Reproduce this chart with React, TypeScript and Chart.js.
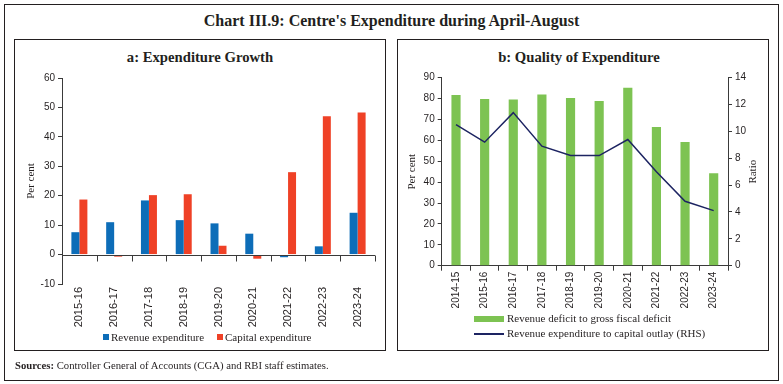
import React, { useEffect, useRef } from "react";
import { Chart, registerables } from "chart.js";

Chart.register(...registerables);

// ---------- Data ----------
const growthCategories = ["2015-16", "2016-17", "2017-18", "2018-19", "2019-20", "2020-21", "2021-22", "2022-23", "2023-24"];
const revenueExpenditureGrowth = [7.6, 11.0, 18.4, 11.7, 10.6, 7.1, -0.9, 2.8, 14.2];
const capitalExpenditureGrowth = [18.7, -0.7, 20.2, 20.5, 3.0, -1.4, 28.0, 47.0, 48.3];
const growthAxisRange = [-10, 60, 10]; // min, max, step

const qualityCategories = ["2014-15", "2015-16", "2016-17", "2017-18", "2018-19", "2019-20", "2020-21", "2021-22", "2022-23", "2023-24"];
const revenueDeficitToGfd = [81.7, 79.8, 79.6, 82.0, 80.3, 78.8, 85.2, 66.4, 59.2, 44.2];
const revExpToCapitalOutlay = [10.5, 9.2, 11.4, 8.9, 8.2, 8.2, 9.4, 7.0, 4.8, 4.1];
const qualityLeftRange = [0, 90, 10];
const qualityRightRange = [0, 14, 2];
const rightAxisTitle = "Ratio";

// ---------- Styles ----------
const AXIS = "#3a3a3a";
const TEXT = "#231f20";
const BLUE = "#0d6db8";
const RED = "#ef4126";
const GREEN = "#7dc352";
const NAVY = "#1d2462";
const SANS = '"Liberation Sans", Arial, sans-serif';
const SERIF = '"Liberation Serif", "Times New Roman", serif';

const zeroAxisPlugin = {
  id: "zeroAxis",
  afterDatasetsDraw(chart: any) {
    const { ctx, chartArea, scales } = chart;
    const y0 = Math.round(scales.y.getPixelForValue(0)) + 0.5;
    const n = chart.data.labels.length;
    const step = (chartArea.right - chartArea.left) / n;
    ctx.save();
    ctx.strokeStyle = AXIS;
    ctx.lineWidth = 1;
    ctx.beginPath();
    ctx.moveTo(chartArea.left, y0);
    ctx.lineTo(chartArea.right, y0);
    for (let i = 1; i <= n; i++) {
      const x = Math.round(chartArea.left + i * step) + 0.5;
      ctx.moveTo(x, y0);
      ctx.lineTo(x, y0 + 6);
    }
    ctx.stroke();
    ctx.restore();
  },
};

// Right-axis title drawn reading bottom-to-top, like the left one
const rightTitlePlugin = {
  id: "rightTitle",
  afterDraw(chart: any) {
    const s = chart.scales.y2;
    const { ctx } = chart;
    ctx.save();
    ctx.translate(s.right - 14.3, (s.top + s.bottom) / 2);
    ctx.rotate(-Math.PI / 2);
    ctx.fillStyle = TEXT;
    ctx.font = `11px ${SERIF}`;
    ctx.textAlign = "center";
    ctx.textBaseline = "middle";
    ctx.fillText(rightAxisTitle, 0, 0);
    ctx.restore();
  },
};

function GrowthChart() {
  const ref = useRef<HTMLCanvasElement | null>(null);
  useEffect(() => {
    if (!ref.current) return;
    const chart = new Chart(ref.current, {
      type: "bar",
      data: {
        labels: growthCategories,
        datasets: [
          { label: "Revenue expenditure", data: revenueExpenditureGrowth, backgroundColor: BLUE, categoryPercentage: 0.46, barPercentage: 1 },
          { label: "Capital expenditure", data: capitalExpenditureGrowth, backgroundColor: RED, categoryPercentage: 0.46, barPercentage: 1 },
        ],
      },
      options: {
        responsive: false,
        animation: false,
        layout: { padding: { top: 38, right: 10, left: 0, bottom: 0 } },
        plugins: { legend: { display: false }, tooltip: { enabled: false } },
        scales: {
          x: {
            grid: { display: false, drawTicks: false },
            border: { display: false },
            ticks: { maxRotation: 90, minRotation: 90, autoSkip: false, padding: 3, color: TEXT, font: { family: SANS, size: 11 } },
            afterFit: (s: any) => { s.height = 66; },
          },
          y: {
            min: growthAxisRange[0],
            max: growthAxisRange[1],
            ticks: { stepSize: growthAxisRange[2], padding: 3, color: TEXT, font: { family: SANS, size: 10 } },
            grid: { display: true, drawOnChartArea: false, drawTicks: true, tickLength: 4, color: AXIS },
            border: { display: true, color: AXIS },
            title: { display: true, text: "Per cent", color: TEXT, font: { family: SERIF, size: 11 }, padding: { top: 10, bottom: 0 } },
            afterFit: (s: any) => { s.width = 47; },
          },
        },
      },
      plugins: [zeroAxisPlugin],
    } as any);
    return () => chart.destroy();
  }, []);
  return <canvas ref={ref} width={370} height={310} style={{ position: "absolute", left: 15, top: 40 }} />;
}

function QualityChart() {
  const ref = useRef<HTMLCanvasElement | null>(null);
  useEffect(() => {
    if (!ref.current) return;
    const chart = new Chart(ref.current, {
      type: "bar",
      data: {
        labels: qualityCategories,
        datasets: [
          { type: "line", label: "Revenue expenditure to capital outlay (RHS)", data: revExpToCapitalOutlay, yAxisID: "y2", borderColor: NAVY, borderWidth: 1.5, pointRadius: 0, tension: 0, order: 0 },
          { type: "bar", label: "Revenue deficit to gross fiscal deficit", data: revenueDeficitToGfd, yAxisID: "y", backgroundColor: GREEN, categoryPercentage: 0.32, barPercentage: 1, order: 1 },
        ],
      },
      options: {
        responsive: false,
        animation: false,
        layout: { padding: { top: 37.7, right: 0, left: 0, bottom: 0 } },
        plugins: { legend: { display: false }, tooltip: { enabled: false } },
        scales: {
          x: {
            offset: true,
            grid: { display: true, offset: true, drawOnChartArea: false, drawTicks: true, tickLength: 5, color: AXIS },
            border: { display: true, color: AXIS },
            ticks: { maxRotation: 90, minRotation: 90, autoSkip: false, padding: 1, color: TEXT, font: { family: SANS, size: 10 } },
            afterFit: (s: any) => { s.height = 84.3; },
          },
          y: {
            position: "left",
            min: qualityLeftRange[0],
            max: qualityLeftRange[1],
            ticks: { stepSize: qualityLeftRange[2], padding: 3, color: TEXT, font: { family: SANS, size: 10 } },
            grid: { display: true, drawOnChartArea: false, drawTicks: true, tickLength: 4, color: AXIS },
            border: { display: true, color: AXIS },
            title: { display: true, text: "Per cent", color: TEXT, font: { family: SERIF, size: 11 }, padding: { top: 8, bottom: 0 } },
            afterFit: (s: any) => { s.width = 43.7; },
          },
          y2: {
            position: "right",
            min: qualityRightRange[0],
            max: qualityRightRange[1],
            ticks: { stepSize: qualityRightRange[2], padding: 3, color: TEXT, font: { family: SANS, size: 10 } },
            grid: { display: true, drawOnChartArea: false, drawTicks: true, tickLength: 4, color: AXIS },
            border: { display: true, color: AXIS },
            title: { display: false },
            afterFit: (s: any) => { s.width = 39; },
          },
        },
      },
      plugins: [rightTitlePlugin],
    } as any);
    return () => chart.destroy();
  }, []);
  return <canvas ref={ref} width={369} height={310} style={{ position: "absolute", left: 398, top: 40 }} />;
}

const box = (left: number, top: number, width: number, height: number): React.CSSProperties => ({
  position: "absolute",
  left,
  top,
  width,
  height,
  boxSizing: "border-box",
  border: "1.5px solid #231f20",
});

export default function App() {
  const legendText: React.CSSProperties = { position: "absolute", fontFamily: SERIF, fontSize: 11, color: TEXT, lineHeight: "12px", whiteSpace: "nowrap" };
  return (
    <div style={{ position: "absolute", left: 0, top: 0, width: 783, height: 384, background: "#fff", fontFamily: SERIF, color: TEXT }}>
      <div style={box(4, 4, 775, 377)} />
      <div style={{ position: "absolute", left: 0, width: 783, top: 11, textAlign: "center", fontWeight: "bold", fontSize: 16, lineHeight: "19px" }}>
        Chart III.9: Centre's Expenditure during April-August
      </div>

      <div style={box(14, 39, 372, 312)} />
      <div style={{ position: "absolute", left: 14, width: 372, top: 49, textAlign: "center", fontWeight: "bold", fontSize: 14.7, lineHeight: "17px" }}>
        a: Expenditure Growth
      </div>
      <GrowthChart />
      <div style={{ position: "absolute", left: 103, top: 334, width: 6, height: 6, background: BLUE }} />
      <div style={{ ...legendText, left: 111, top: 331 }}>Revenue expenditure</div>
      <div style={{ position: "absolute", left: 217, top: 334, width: 6, height: 6, background: RED }} />
      <div style={{ ...legendText, left: 225, top: 331 }}>Capital expenditure</div>

      <div style={box(397, 39, 372, 312)} />
      <div style={{ position: "absolute", left: 397, width: 364, top: 49, textAlign: "center", fontWeight: "bold", fontSize: 14.7, lineHeight: "17px" }}>
        b: Quality of Expenditure
      </div>
      <QualityChart />
      <div style={{ position: "absolute", left: 474, top: 316, width: 30, height: 6, background: GREEN }} />
      <div style={{ ...legendText, left: 507, top: 312 }}>Revenue deficit to gross fiscal deficit</div>
      <div style={{ position: "absolute", left: 474, top: 333, width: 30, height: 1.5, background: NAVY }} />
      <div style={{ ...legendText, left: 507, top: 327 }}>Revenue expenditure to capital outlay (RHS)</div>

      <div style={{ position: "absolute", left: 15, top: 359, fontSize: 10.7, lineHeight: "13px", whiteSpace: "nowrap" }}>
        <b>Sources:</b> Controller General of Accounts (CGA) and RBI staff estimates.
      </div>
    </div>
  );
}
